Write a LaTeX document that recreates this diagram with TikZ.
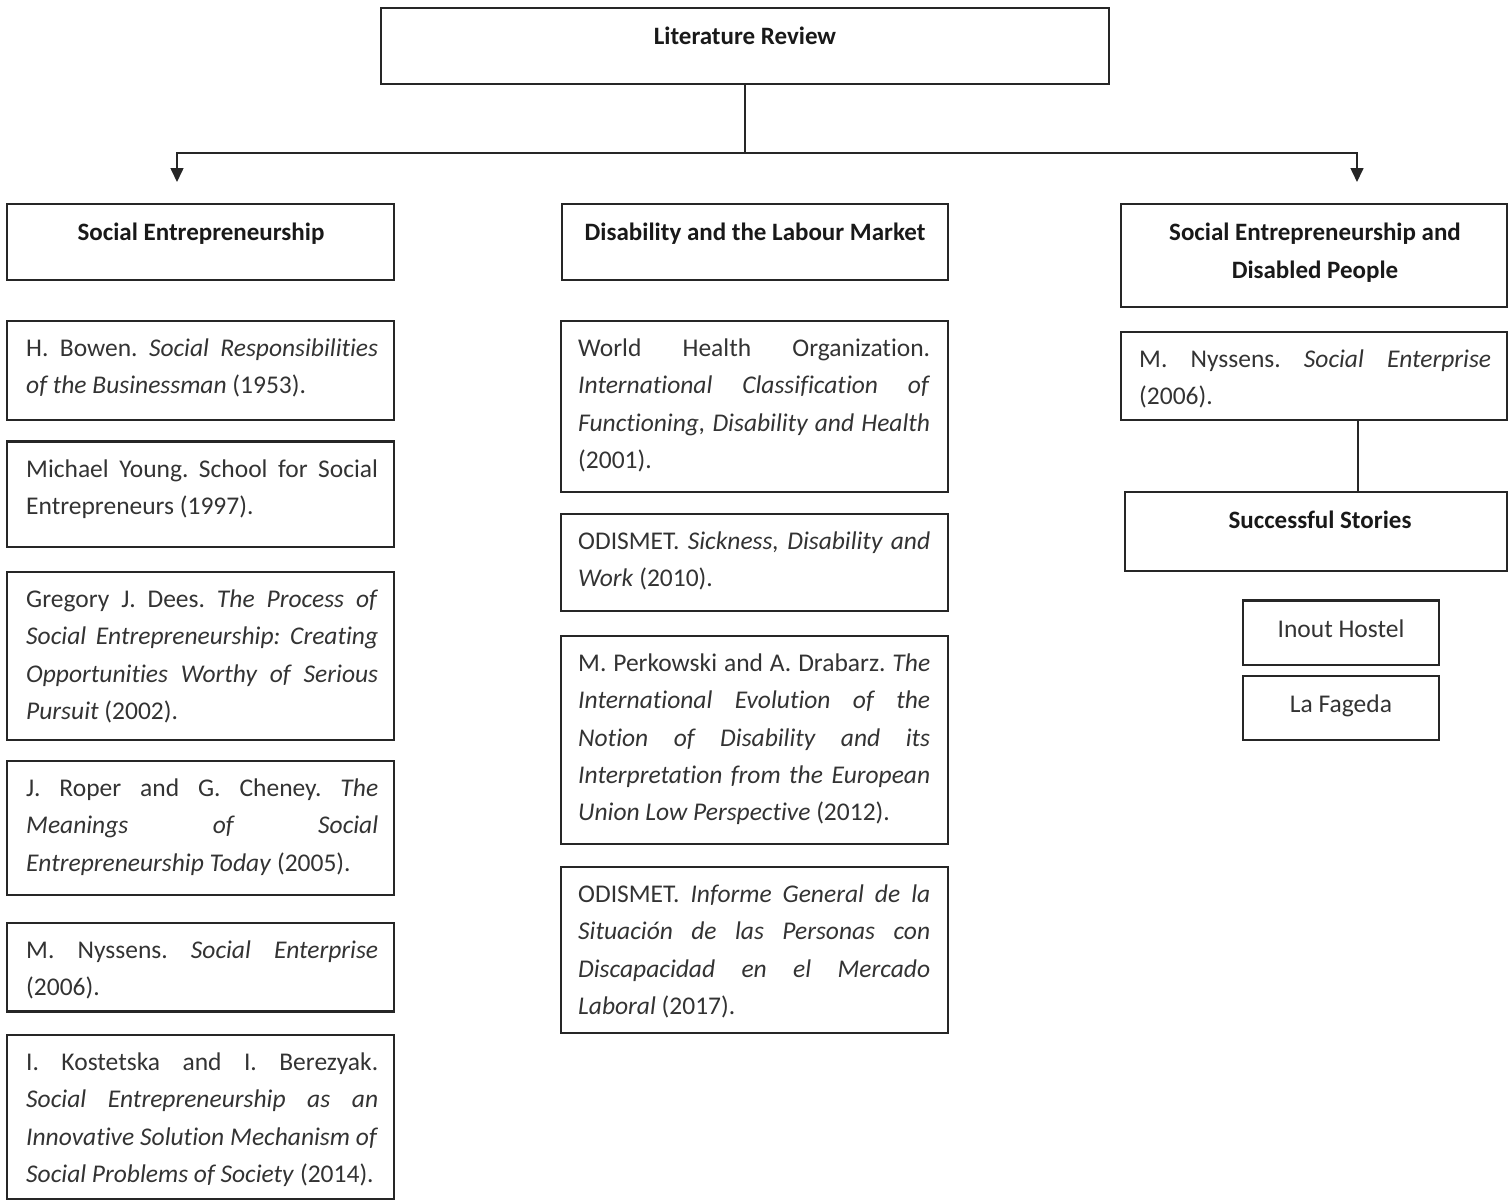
\documentclass[tikz,border=0pt]{standalone}
\usepackage{fontspec}
\setmainfont{Carlito}[Ligatures=NoCommon]
\usetikzlibrary{fit,arrows.meta}
\frenchspacing
\tikzset{
  box/.style={draw=black!85, line width=1.6pt, inner sep=0pt},
  txt/.style={inner sep=0pt, text=black!80, font=\fontsize{25.5}{37.3}\selectfont},
  head/.style={inner sep=0pt, text=black!90, font=\bfseries\fontsize{25}{38}\selectfont},
  conn/.style={draw=black!85, line width=1.6pt},
  arr/.style={conn, -{Triangle[width=13pt,length=14pt]}}
}
% name, x1, y1, x2, y2, text x, text
\newcommand\mybox[7]{%
  \node[box, fit={(#2,-#3)(#4,-#5)}] (#1) {};
  \node[txt, anchor=base west] (#1-t) at (#6,-#3-35.5) {\parbox[t]{352pt}{\hyphenpenalty=10000\exhyphenpenalty=10000 #7}};}
% name, x1, y1, x2, y2, centre x, text
\newcommand\headbox[7]{%
  \node[box, fit={(#2,-#3)(#4,-#5)}] (#1) {};
  \node[head, anchor=base] (#1-t) at (#6,-#3-36) {\parbox[t]{380pt}{\centering #7}};}
\begin{document}
\begin{tikzpicture}[x=1pt,y=1pt]
\useasboundingbox (0,0) rectangle (1508,-1200);

% top
\headbox{lit}{381}{8}{1109}{84}{745}{Literature Review}
\coordinate (jn) at (745,-153);
\coordinate (aL) at (177,-182);
\coordinate (aR) at (1357,-182);
\draw[conn] (lit.south) -- (jn);
\draw[arr] (jn) -| (aL);
\draw[arr] (jn) -| (aR);

% headings
\headbox{se}{7}{204}{394}{280}{201}{Social Entrepreneurship}
\headbox{dl}{562}{204}{948}{280}{755}{Disability and the Labour Market}
\headbox{sed}{1121}{204}{1507}{307}{1315}{Social Entrepreneurship and\\Disabled People}

% left column
\mybox{l1}{7}{321}{394}{420}{26}{H. Bowen. \textit{Social Responsibilities} \linebreak \textit{of the Businessman} (1953).}
\mybox{l2}{7}{442}{394}{547}{26}{Michael Young. School for Social \linebreak Entrepreneurs (1997).}
\draw[black!85, line width=3pt] (l2.north west) -- (l2.north east);
\mybox{l3}{7}{572}{394}{740}{26}{Gregory J. Dees. \textit{The Process of} \linebreak \textit{Social Entrepreneurship: Creating} \linebreak \textit{Opportunities Worthy of Serious} \linebreak \textit{Pursuit} (2002).}
\mybox{l4}{7}{761}{394}{895}{26}{J. Roper and G. Cheney. \textit{The} \linebreak \textit{Meanings of Social} \linebreak \textit{Entrepreneurship Today} (2005).}
\mybox{l5}{7}{923}{394}{1011}{26}{M. Nyssens. \textit{Social Enterprise} \linebreak (2006).}
\draw[black!85, line width=3pt] (l5.south west) -- (l5.south east);
\mybox{l6}{7}{1035}{394}{1199}{26}{I. Kostetska and I. Berezyak. \linebreak \textit{Social Entrepreneurship as an} \linebreak \textit{Innovative Solution Mechanism of} \linebreak \textit{Social Problems of Society} (2014).}

% middle column
\mybox{m1}{561}{321}{948}{492}{578}{World Health Organization. \linebreak \textit{International Classification of} \linebreak \textit{Functioning, Disability and Health} \linebreak (2001).}
\mybox{m2}{561}{514}{948}{611}{578}{ODISMET. \textit{Sickness, Disability and} \linebreak \textit{Work} (2010).}
\mybox{m3}{561}{636}{948}{844}{578}{M. Perkowski and A. Drabarz. \textit{The} \linebreak \textit{International Evolution of the} \linebreak \textit{Notion of Disability and its} \linebreak \textit{Interpretation from the European} \linebreak \textit{Union Low Perspective} (2012).}
\mybox{m4}{561}{867}{948}{1033}{578}{ODISMET. \textit{Informe General de la} \linebreak \textit{Situación de las Personas con} \linebreak \textit{Discapacidad en el Mercado} \linebreak \textit{Laboral} (2017).}

% right column
\mybox{r1}{1121}{332}{1507}{420}{1139}{M. Nyssens. \textit{Social Enterprise} \linebreak (2006).}
\headbox{succ}{1125}{492}{1507}{571}{1320}{Successful Stories}
\coordinate (cx) at (1358,0);
\draw[conn] (r1.south -| cx) -- (succ.north -| cx);

\node[box, fit={(1243,-601)(1439,-665)}] (inout) {};
\node[txt, anchor=base] (inout-t) at (1341,-637) {Inout Hostel};
\draw[black!85, line width=3pt] (inout.north west) -- (inout.north east);
\node[box, fit={(1243,-676)(1439,-740)}] (lafa) {};
\node[txt, anchor=base] (lafa-t) at (1341,-712) {La Fageda};
\end{tikzpicture}
\end{document}
